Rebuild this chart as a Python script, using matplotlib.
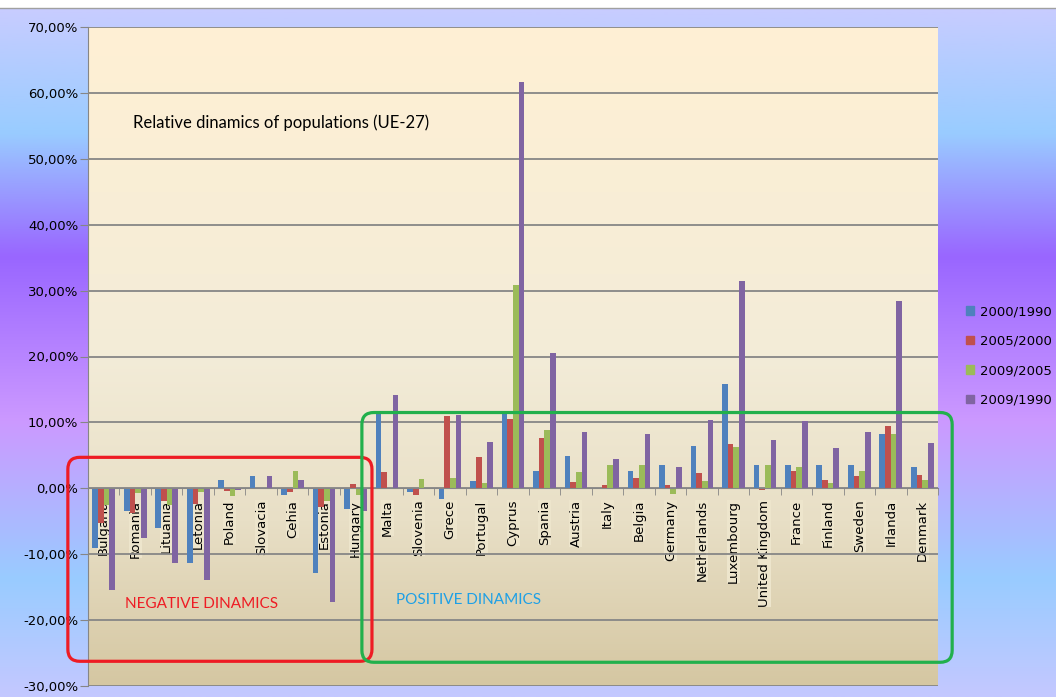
import numpy as np
import matplotlib
matplotlib.use("Agg")
import matplotlib.pyplot as plt
from matplotlib.colors import LinearSegmentedColormap
from matplotlib.patches import FancyBboxPatch, Patch
from matplotlib.ticker import FuncFormatter, MultipleLocator

countries = ['Bulgaria', 'Romania', 'Lituania', 'Letonia', 'Poland', 'Slovacia', 'Cehia',
             'Estonia', 'Hungary', 'Malta', 'Slovenia', 'Grece', 'Portugal', 'Cyprus',
             'Spania', 'Austria', 'Italy', 'Belgia', 'Germany', 'Netherlands', 'Luxembourg',
             'United Kingdom', 'France', 'Finland', 'Sweden', 'Irlanda', 'Denmark']

# relative change, in %
d2000_1990 = [-9.1, -3.4, -6.0, -11.3, 1.3, 1.9, -1.0, -12.8, -3.2, 11.4, -0.55, -1.6, 1.06,
              11.7, 2.7, 4.9, 0.0, 2.7, 3.5, 6.4, 15.8, 3.6, 3.6, 3.6, 3.5, 8.2, 3.3]
d2005_2000 = [-5.3, -3.7, -2.0, -2.4, -0.35, 0.0, -0.5, -2.9, 0.66, 2.4, -1.0, 11.0, 4.7,
              10.5, 7.7, 0.9, 0.45, 1.5, 0.45, 2.3, 6.7, -0.2, 2.6, 1.2, 1.8, 9.4, 2.0]
d2009_2005 = [-2.5, -0.7, -2.5, -0.5, -1.1, 0.0, 2.7, -2.0, -1.0, 0.0, 1.4, 1.6, 0.76,
              30.8, 8.8, 2.4, 3.6, 3.5, -0.86, 1.06, 6.2, 3.5, 3.3, 0.76, 2.7, 8.3, 1.2]
d2009_1990 = [-15.5, -7.5, -11.3, -13.9, -0.2, 1.9, 1.3, -17.2, -3.5, 14.1, 0.0, 11.1, 7.0,
              61.6, 20.6, 8.5, 4.4, 8.2, 3.2, 10.3, 31.4, 7.3, 10.2, 6.1, 8.5, 28.4, 6.8]

series_names = ['2000/1990', '2005/2000', '2009/2005', '2009/1990']
series = [d2000_1990, d2005_2000, d2009_2005, d2009_1990]
colors = ['#4f81bd', '#c0504d', '#9bbb59', '#8064a2']

W, H = 1056, 697
fig = plt.figure(figsize=(W / 100, H / 100), dpi=100)
fig.patch.set_facecolor('white')

# chart area background gradient
bg = fig.add_axes([0, 0, 1, 1 - 8 / H], zorder=-10)
bg_cmap = LinearSegmentedColormap.from_list(
    'bg', [(0, '#c8ccff'), (0.18, '#99ccff'), (0.36, '#9966ff'),
           (0.60, '#cc99ff'), (0.83, '#99ccff'), (1, '#c4c8ff')])
bg.imshow(np.linspace(0, 1, 256).reshape(-1, 1), cmap=bg_cmap, aspect='auto',
          extent=[0, 1, 0, 1])
bg.axis('off')
fig.add_artist(plt.Line2D([0, 1], [1 - 8 / H] * 2, color='#a0a0a0', lw=1))

ax = fig.add_axes([88 / W, 11 / H, 850 / W, 659 / H])
ax.set_facecolor('none')
plot_cmap = LinearSegmentedColormap.from_list(
    'plot', [(0, '#fff0d4'), (0.5, '#f3ecd8'), (0.75, '#e8dfc6'), (1, '#d5c7a2')])
ax.imshow(np.linspace(0, 1, 256).reshape(-1, 1), cmap=plot_cmap, aspect='auto',
          extent=[0, 1, 0, 1], transform=ax.transAxes, zorder=0)

x = np.arange(len(countries))
w = 0.18
for k, (vals, c) in enumerate(zip(series, colors)):
    ax.bar(x + (k - 1.5) * w, vals, w, color=c, zorder=2)

ax.set_xlim(-0.5, len(countries) - 0.5)
ax.set_ylim(-30, 70)

ax.yaxis.set_major_locator(MultipleLocator(10))
ax.yaxis.set_major_formatter(FuncFormatter(lambda v, p: f"{v:.2f}%".replace('.', ',')))
ax.yaxis.grid(True, color='#868686', lw=1.3, zorder=0.5)
ax.set_axisbelow(True)
ax.tick_params(axis='y', length=6, color='#868686', labelsize=9.5, pad=1)

ax.set_xticks(x)
ax.set_xticklabels(countries)
ax.set_xticks(np.arange(-0.5, len(countries), 1), minor=True)
ax.tick_params(axis='x', which='major', length=0, pad=8.2, labelrotation=90, labelsize=9.5)
ax.tick_params(axis='x', which='minor', length=5, color='#868686', direction='out')

for s in ['top', 'right']:
    ax.spines[s].set_visible(False)
ax.spines['left'].set_color('#868686')
ax.spines['bottom'].set_position(('data', 0))
ax.spines['bottom'].set_color('#868686')
ax.spines['bottom'].set_zorder(3)

# annotations
ax.text(0.93, 55.5, 'Relative dinamics of populations (UE-27)', family='Lato',
        fontsize=12, va='center', ha='left', color='black')
ax.text(0.68, -17.6, 'NEGATIVE DINAMICS', family='Lato', fontsize=11,
        va='center', ha='left', color='#ee1c24')
ax.text(9.28, -17.0, 'POSITIVE DINAMICS', family='Lato', fontsize=11,
        va='center', ha='left', color='#1ea0e6')

aspect = (1 / 6.59) / (1 / 31.48)
red_box = FancyBboxPatch((-1.14, -26.25), 8.52 + 1.14, 4.7 + 26.25,
                         boxstyle='round,pad=0,rounding_size=0.38',
                         mutation_aspect=aspect, fill=False, ec='#ee1c24', lw=2.3,
                         clip_on=False, zorder=5)
green_box = FancyBboxPatch((8.20, -26.4), 26.95 - 8.20, 11.5 + 26.4,
                           boxstyle='round,pad=0,rounding_size=0.38',
                           mutation_aspect=aspect, fill=False, ec='#22b04c', lw=2.3,
                           clip_on=False, zorder=5)
ax.add_patch(red_box)
ax.add_patch(green_box)

handles = [Patch(color=c) for c in colors]
fig.legend(handles, series_names, loc='upper left', bbox_to_anchor=(0.904, 0.579),
           frameon=False, fontsize=9.5, handlelength=0.6, handleheight=0.6,
           handletextpad=0.4, labelspacing=1.25)

fig.canvas.draw()
ax.get_ygridlines()[-1].set_visible(False)
for lab in ax.get_xticklabels():
    lab.set_bbox(dict(facecolor='#ede5cc', edgecolor='none', pad=0))

fig.savefig('out.png', dpi=100)
